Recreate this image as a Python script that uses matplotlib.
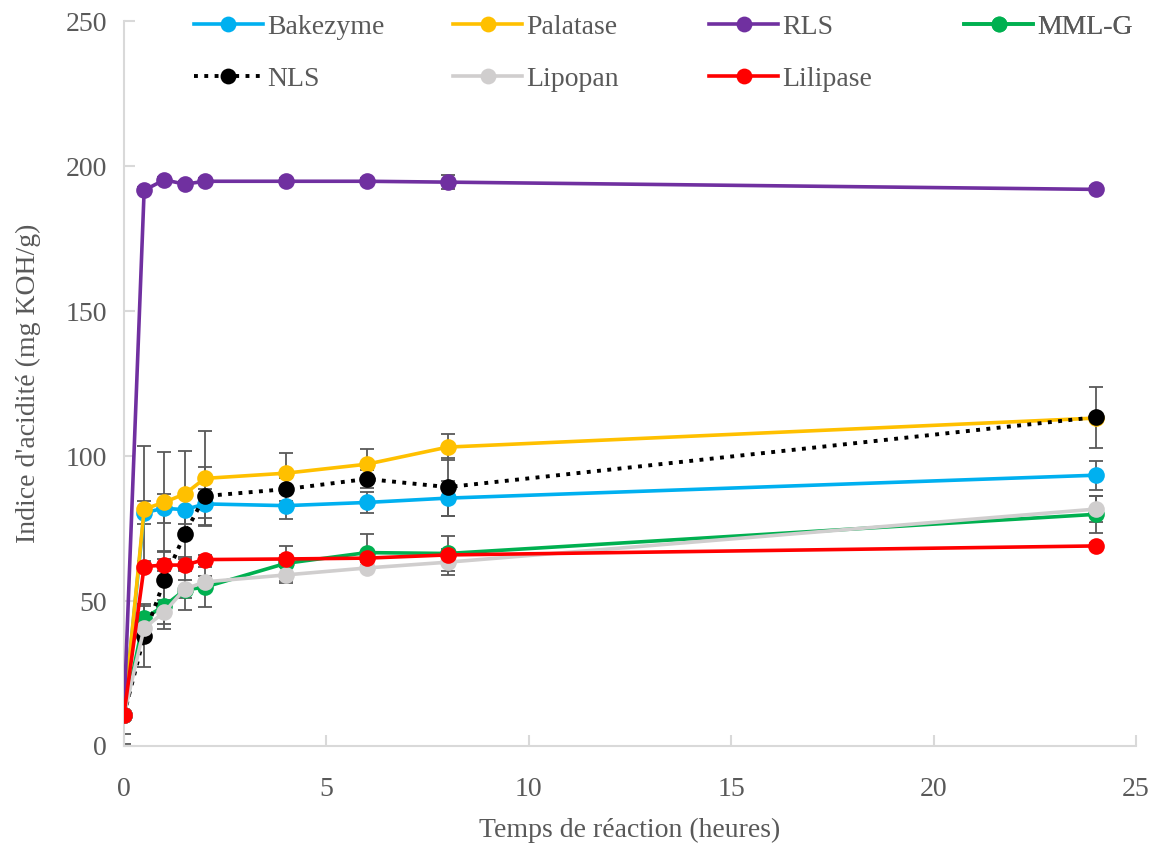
import matplotlib
matplotlib.use("Agg")
import matplotlib.pyplot as plt

# Temps de réaction (heures)
temps = [0, 0.5, 1, 1.5, 2, 4, 6, 8, 24]

# Indice d'acidité (mg KOH/g) par enzyme
bakezyme = [10.7, 80.5, 82.0, 81.5, 83.5, 82.9, 84.0, 85.5, 93.4]
palatase = [10.7, 81.7, 84.1, 86.9, 92.3, 94.1, 97.2, 103.1, 113.1]
rls = [10.7, 191.7, 195.3, 193.8, 194.8, 194.8, 194.8, 194.5, 192.0]
mml_g = [10.7, 44.1, 48.3, 53.8, 54.8, 63.0, 66.7, 66.4, 79.9]
nls = [10.7, 37.8, 57.2, 73.1, 86.2, 88.6, 92.1, 89.3, 113.4]
lipopan = [10.7, 40.7, 46.2, 54.1, 56.6, 59.0, 61.4, 63.4, 81.7]
lilipase = [10.7, 61.9, 62.4, 62.4, 64.3, 64.5, 64.8, 65.9, 69.0]

# écarts-types
err_bakezyme = [1.0, 4.0, 5.0, 5.0, 5.0, 4.5, 3.7, 6.0, 5.0]
err_palatase = [1.0, 21.7, 17.3, 14.8, 16.3, 7.0, 5.2, 4.5, 1.0]
err_rls = [1.0, 1.0, 1.0, 1.0, 1.0, 1.0, 1.0, 2.5, 1.0]
err_mml_g = [6.5, 5.0, 8.0, 7.0, 7.0, 6.0, 6.3, 6.0, 6.5]
err_nls = [10.0, 10.4, 10.0, 8.0, 10.0, 4.0, 3.0, 10.0, 10.5]
err_lipopan = [1.0, 3.0, 4.0, 3.0, 2.0, 2.8, 1.0, 4.5, 4.5]
err_lilipase = [1.0, 2.0, 2.0, 2.0, 1.5, 1.5, 1.5, 1.5, 1.0]

series = [
    ("Bakezyme", bakezyme, err_bakezyme, "#00B0F0", "-"),
    ("Palatase", palatase, err_palatase, "#FFC000", "-"),
    ("RLS", rls, err_rls, "#7030A0", "-"),
    ("MML-G", mml_g, err_mml_g, "#00B050", "-"),
    ("NLS", nls, err_nls, "black", ":"),
    ("Lipopan", lipopan, err_lipopan, "#D0CECE", "-"),
    ("Lilipase", lilipase, err_lilipase, "#FF0000", "-"),
]

plt.rcParams['font.family'] = ['Liberation Serif', 'DejaVu Serif']
txt = "#595959"

fig = plt.figure(figsize=(11.58, 8.5), dpi=100)
ax = fig.add_axes([0.107, 0.1224, 0.874, 0.8526])

# barres d'erreur sous les courbes
for name, y, e, c, ls in series:
    ax.errorbar(temps, y, yerr=e, fmt='none', ecolor="#595959",
                elinewidth=1.3, capsize=5, capthick=1.3, zorder=1)

handles = []
for i, (name, y, e, c, ls) in enumerate(series):
    lw = 2.8 if ls == ":" else 2.6
    h, = ax.plot(temps, y, linestyle=ls, color=c, lw=lw, marker='o',
                 markersize=12, markeredgewidth=0, label=name, zorder=2 + i)
    handles.append(h)

ax.set_xlim(0, 25)
ax.set_ylim(0, 250)
ax.set_xticks(range(0, 26, 5))
ax.set_yticks(range(0, 251, 50))

for s in ["top", "right"]:
    ax.spines[s].set_visible(False)
for s in ["left", "bottom"]:
    ax.spines[s].set_color("#D9D9D9")
    ax.spines[s].set_linewidth(1.5)
ax.tick_params(direction='in', length=8, width=1.5, color="#D9D9D9",
               labelsize=20, labelcolor=txt)
ax.tick_params(axis='x', pad=22)
ax.tick_params(axis='y', pad=12)

ax.set_xlabel("Temps de réaction (heures)", fontsize=20, color=txt, labelpad=12)
ax.set_ylabel("Indice d'acidité (mg KOH/g)", fontsize=20, color=txt, labelpad=18)

# légende en 4 colonnes de largeur égale (une légende par colonne)
columns = [[0, 4], [1, 5], [2, 6], [3]]
col_x = [0.069, 0.325, 0.578, 0.830]
for idx, cx in zip(columns, col_x):
    leg = ax.legend([handles[k] for k in idx], [series[k][0] for k in idx],
                    loc='upper left', bbox_to_anchor=(cx, 1.009),
                    frameon=False, fontsize=20, handlelength=2.5,
                    handletextpad=0.15, labelspacing=0.95, borderpad=0,
                    borderaxespad=0, markerscale=0.95)
    for t in leg.get_texts():
        t.set_color(txt)
    ax.add_artist(leg)

fig.savefig("out.png", dpi=100)
